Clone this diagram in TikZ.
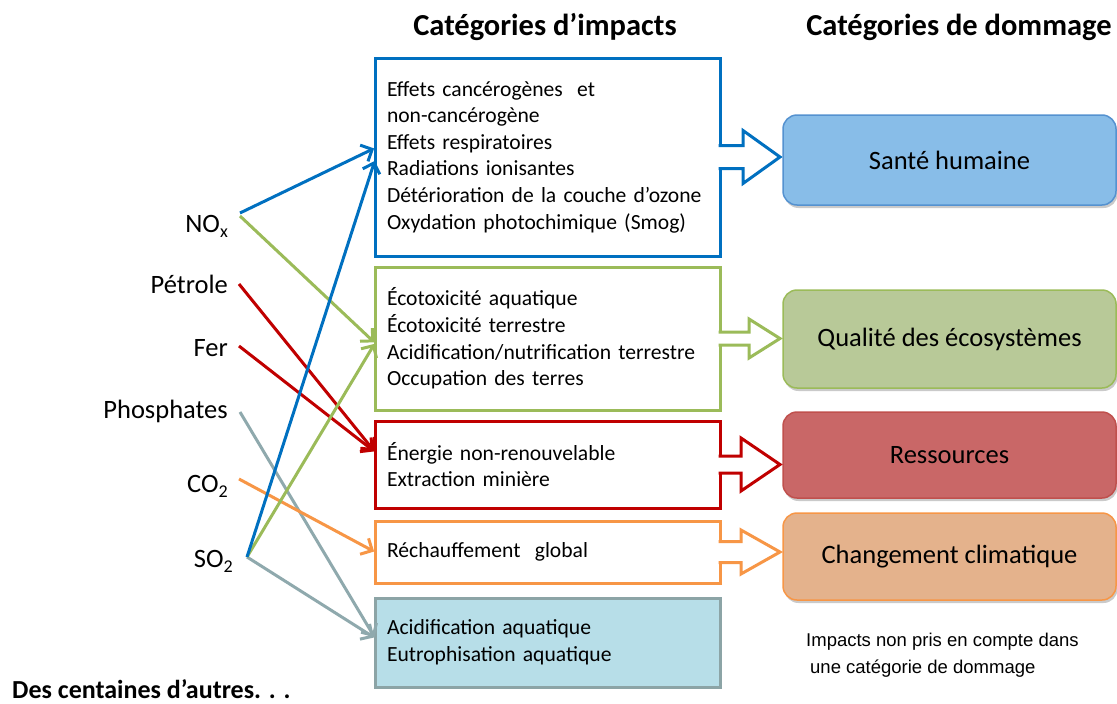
\documentclass[tikz,border=0pt]{standalone}
\usepackage{fontspec}
\setmainfont{Carlito}
\newfontfamily\arialfont{Liberation Sans}
\usetikzlibrary{arrows.meta,shadows,calc}
\definecolor{cblue}{HTML}{0070C0}
\definecolor{cgreen}{HTML}{9BBB59}
\definecolor{cred}{HTML}{C00000}
\definecolor{corange}{HTML}{F79646}
\definecolor{cgray}{HTML}{8FA9AD}
\definecolor{tealfill}{HTML}{B7DEE8}
\definecolor{tealdraw}{HTML}{8CA4A6}
\definecolor{dafill}{HTML}{88BDE8}
\definecolor{dadraw}{HTML}{5592D0}
\definecolor{dbfill}{HTML}{B8C998}
\definecolor{dbdraw}{HTML}{9BBB59}
\definecolor{dcfill}{HTML}{C96767}
\definecolor{dcdraw}{HTML}{C0504D}
\definecolor{ddfill}{HTML}{E4B28C}
\definecolor{dddraw}{HTML}{F79646}

\newcommand\chemsub[1]{\raisebox{-5pt}{\fontsize{18}{18}\selectfont #1}}

% block arrow: colour, impact box, damage box, shaft half height, head half height, head base offset
\newcommand\blockarr[6]{%
  \fill[white] let \p1=(#2.east), \p2=(#3.west) in
    (\x1-2pt,\y1+#4pt) -- (\x1+#6pt,\y1+#4pt) -- (\x1+#6pt,\y1+#5pt) -- (\x2-3pt,\y1)
    -- (\x1+#6pt,\y1-#5pt) -- (\x1+#6pt,\y1-#4pt) -- (\x1-2pt,\y1-#4pt) -- cycle;
  \draw[draw=#1, line width=3pt, miter limit=10] let \p1=(#2.east), \p2=(#3.west) in
    (\x1-1.5pt,\y1+#4pt) -- (\x1+#6pt,\y1+#4pt) -- (\x1+#6pt,\y1+#5pt) -- (\x2-3pt,\y1)
    -- (\x1+#6pt,\y1-#5pt) -- (\x1+#6pt,\y1-#4pt) -- (\x1-1.5pt,\y1-#4pt);
}

\begin{document}
\begin{tikzpicture}[x=1pt,y=-1pt,
  impbox/.style={draw=#1, line width=3pt, fill=white, anchor=north west,
    inner xsep=12pt, inner ysep=0pt, outer sep=0pt, align=left, text width=321pt,
    font=\fontsize{21.6}{26.6}\selectfont},
  dmgbox/.style={line width=1.5pt, rounded corners=14pt, anchor=north west,
    minimum width=333pt, inner sep=0pt, outer sep=0pt,
    font=\fontsize{26.5}{30}\selectfont,
    drop shadow={shadow xshift=1.5pt, shadow yshift=-3pt, opacity=0.35, fill=black!60}},
  lab/.style={anchor=base east, inner sep=0pt, font=\fontsize{26.5}{30}\selectfont},
  ttl/.style={inner sep=0pt, font=\bfseries\fontsize{30.5}{34}\selectfont},
  conn/.style={line width=3pt, -{Straight Barb[length=9pt,width=18pt]}, shorten >=1pt}
]
\useasboundingbox (0,0) rectangle (1117,704);

% titles
\node[ttl] (t1) at (545,27) {Catégories d’impacts};
\node[ttl] (t2) at (959,27) {Catégories de dommage};

% impact boxes
\node[impbox=cblue, minimum height=198pt] (imp1) at (375,58)
  {Effets cancérogènes\ \ et\\non-cancérogène\\Effets respiratoires\\Radiations ionisantes\\Détérioration de la couche d’ozone\\Oxydation photochimique (Smog)};
\node[impbox=cgreen, minimum height=143pt] (imp2) at (375,267)
  {Écotoxicité aquatique\\Écotoxicité terrestre\\Acidification/nutrification terrestre\\Occupation des terres};
\node[impbox=cred, minimum height=87pt] (imp3) at (375,421)
  {Énergie non-renouvelable\\Extraction minière};
\node[impbox=corange, minimum height=62pt] (imp4) at (375,521)
  {Réchauffement\ \ global};
\node[impbox=tealdraw, fill=tealfill, minimum height=89pt] (imp5) at (375,598)
  {Acidification aquatique\\Eutrophisation aquatique};

% damage boxes
\node[dmgbox, draw=dadraw, fill=dafill, minimum height=90pt] (dmg1) at (783,115) {Santé humaine};
\node[dmgbox, draw=dbdraw, fill=dbfill, minimum height=98pt] (dmg2) at (783,290) {Qualité des écosystèmes};
\node[dmgbox, draw=dcdraw, fill=dcfill, minimum height=86pt] (dmg3) at (783,412) {Ressources};
\node[dmgbox, draw=dddraw, fill=ddfill, minimum height=87pt] (dmg4) at (783,513) {Changement climatique};

% block arrows
\blockarr{cblue}{imp1}{dmg1}{11.5}{26.5}{23}
\blockarr{cgreen}{imp2}{dmg2}{6.5}{19.5}{29}
\blockarr{cred}{imp3}{dmg3}{8.5}{26.5}{21}
\blockarr{corange}{imp4}{dmg4}{10.5}{22}{21}

% substance labels
\node[lab] (nox) at (228,232) {NO\chemsub{x}};
\node[lab] (pet) at (228,293) {Pétrole};
\node[lab] (fer) at (228,356) {Fer};
\node[lab] (pho) at (228,418) {Phosphates};
\node[lab] (co2) at (228,492) {CO\chemsub{2}};
\node[lab] (so2) at (233,567) {SO\chemsub{2}};

% connector origins
\coordinate (noxA) at (240,213);
\coordinate (noxB) at (240,216);
\coordinate (petS) at (239,284);
\coordinate (ferS) at (239,346);
\coordinate (phoS) at (240,412);
\coordinate (co2S) at (239,479);
\coordinate (so2S) at (247,557);

% connectors
\draw[conn, cgray] (phoS) -- (imp5.west |- 0,638);
\draw[conn, cgray] (so2S) -- (imp5.west |- 0,638);
\draw[conn, corange] (co2S) -- (imp4.west |- 0,552);
\draw[conn, cred] (petS) -- (imp3.west |- 0,452);
\draw[conn, cred] (ferS) -- (imp3.west |- 0,452);
\draw[conn, cgreen] (noxB) -- (imp2.west |- 0,343);
\draw[conn, cgreen] (so2S) -- (imp2.west |- 0,343);
\draw[conn, cblue] (noxA) -- (imp1.west |- 0,148);
\draw[conn, cblue] (so2S) -- (imp1.west |- 0,160);

% notes
\node[anchor=west, align=left, inner sep=0pt, font=\arialfont\fontsize{18.5}{27}\selectfont] (note) at (806,655)
  {Impacts non pris en compte dans\\\hspace*{4pt}une catégorie de dommage};
\node[anchor=west, inner sep=0pt, font=\bfseries\fontsize{26}{28}\selectfont] (more) at (12,689) {Des centaines d’autres. . .};
\end{tikzpicture}
\end{document}
